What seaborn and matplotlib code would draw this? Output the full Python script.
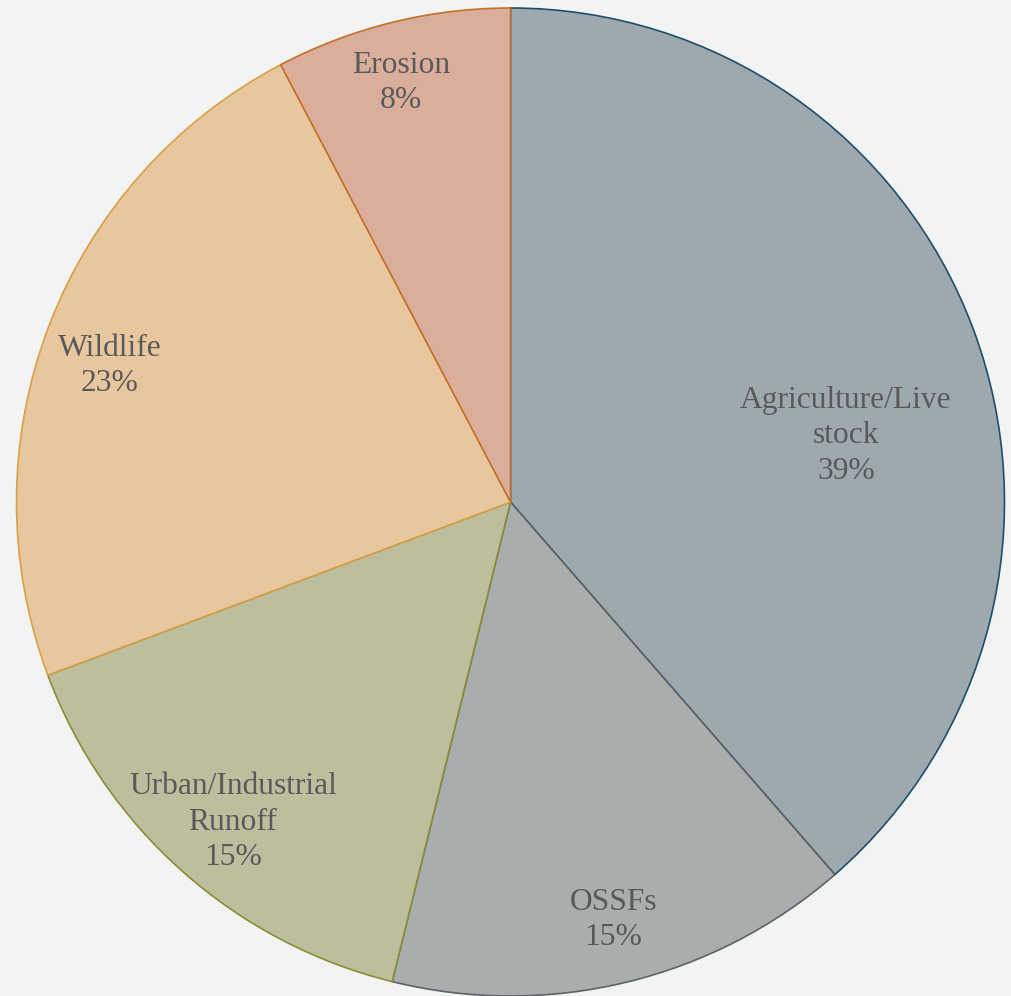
import matplotlib
matplotlib.use("Agg")
import matplotlib.pyplot as plt
import seaborn as sns

# Bacteria source shares (percent of total load)
sources = ["Agriculture/Live\nstock", "OSSFs", "Urban/Industrial\nRunoff", "Wildlife", "Erosion"]
shares = [38.6, 15.25, 15.45, 23.0, 7.7]

fill_colors = ["#9EA8AF", "#A9ADAE", "#BCBE9E", "#E8C69E", "#DAAE9B"]
edge_colors = ["#1F4E6B", "#5E6264", "#8C8C33", "#D9A048", "#C5702A"]

# Where each category label block sits (unit-radius pie coordinates)
label_xy = [(0.679, 0.134), (0.208, -0.846), (-0.562, -0.648), (-0.811, 0.275), (-0.222, 0.848)]

sns.set_theme(style="white")
plt.rcParams["font.family"] = ["Liberation Serif", "DejaVu Serif"]

bg = "#F2F4F3"
fig = plt.figure(figsize=(10.11, 9.96), dpi=100, facecolor=bg)
ax = fig.add_axes([0, 0, 1, 1])
ax.set_facecolor(bg)

wedges, _ = ax.pie(
    shares,
    colors=fill_colors,
    startangle=90,
    counterclock=False,
    radius=1.0,
    wedgeprops=dict(linewidth=1.2),
)
for w, ec in zip(wedges, edge_colors):
    w.set_edgecolor(ec)

for name, val, (x, y) in zip(sources, shares, label_xy):
    ax.text(x, y, f"{name}\n{int(val + 0.5)}%", ha="center", va="center",
            fontsize=22.7, color="#595959", linespacing=1.29)

ax.set_xlim(-510.5 / 494, (1011 - 510.5) / 494)
ax.set_ylim(-(996 - 502) / 494, 502 / 494)
ax.set_aspect("auto")
ax.axis("off")

fig.savefig("out.png", dpi=100, facecolor=bg)
